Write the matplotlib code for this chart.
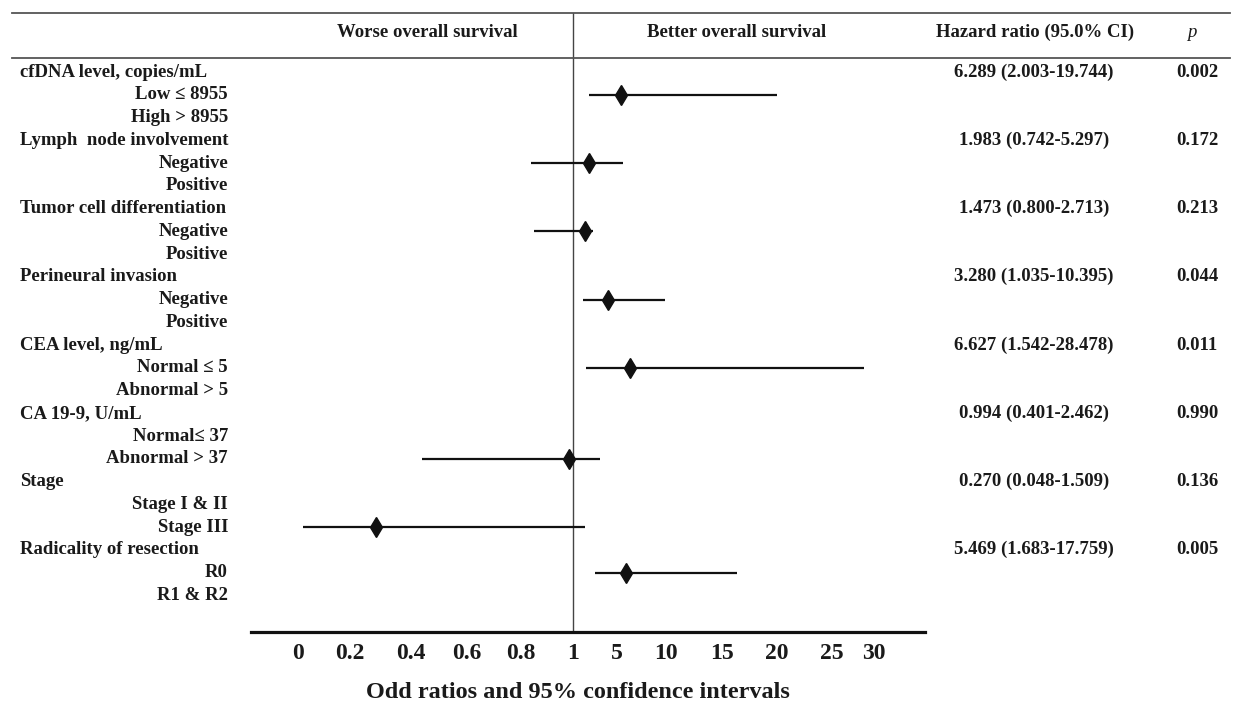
import numpy as np
import matplotlib
matplotlib.use('Agg')
import matplotlib.pyplot as plt
from matplotlib import transforms

plt.rcParams['font.family'] = ['Liberation Serif', 'DejaVu Serif']
plt.rcParams['font.weight'] = 'bold'

groups = ['cfDNA level, copies/mL', 'Lymph  node involvement',
          'Tumor cell differentiation', 'Perineural invasion',
          'CEA level, ng/mL', 'CA 19-9, U/mL', 'Stage',
          'Radicality of resection']
levels = [('Low \u2264 8955', 'High > 8955'), ('Negative', 'Positive'),
          ('Negative', 'Positive'), ('Negative', 'Positive'),
          ('Normal \u2264 5', 'Abnormal > 5'), ('Normal\u2264 37', 'Abnormal > 37'),
          ('Stage I & II', 'Stage III'), ('R0', 'R1 & R2')]
hr_text = ['6.289 (2.003-19.744)', '1.983 (0.742-5.297)', '1.473 (0.800-2.713)',
           '3.280 (1.035-10.395)', '6.627 (1.542-28.478)', '0.994 (0.401-2.462)',
           '0.270 (0.048-1.509)', '5.469 (1.683-17.759)']
p_text = ['0.002', '0.172', '0.213', '0.044', '0.011', '0.990', '0.136', '0.005']

# where the diamonds and whiskers sit on the drawn axis
mark_level = [0, 0, 0, 0, 0, 1, 1, 0]
hr_mark = [5.4, 2.45, 2.1, 4.2, 6.3, 0.985, 0.285, 5.9]
lo_mark = [2.45, 0.84, 0.85, 1.9, 2.2, 0.44, 0.02, 3.0]
hi_mark = [20.0, 5.6, 2.8, 9.9, 28.8, 3.5, 2.1, 16.4]

tick_vals = [0, 0.2, 0.4, 0.6, 0.8, 1, 5, 10, 15, 20, 25, 30]
tick_labels = ['0', '0.2', '0.4', '0.6', '0.8', '1', '5', '10', '15', '20', '25', '30']

# broken axis: 0-1 stretched over the left half, 1-30 over the right
tick_pos = [298, 350, 411, 467, 521, 573, 617, 666, 722, 777, 832, 874]
ext_vals = np.array([-1.0] + tick_vals + [40.0])
ext_pos = np.array([298 - 5 * 52] + tick_pos + [874 + 10 * 8.4])


def fwd(v):
    return np.interp(v, ext_vals, ext_pos)


def inv(p):
    return np.interp(p, ext_pos, ext_vals)


W, H = 1234, 707
fig = plt.figure(figsize=(W / 100, H / 100), dpi=100)
ax = fig.add_axes([251 / W, (H - 632) / H, (925 - 251) / W, (632 - 13) / H])
ax.set_xscale('function', functions=(fwd, inv))
ax.set_xlim(inv(251), inv(925))

row0, step = 72, 22.75
ax.set_ylim((632 - row0) / step, (13 - row0) / step)

txt = '#1a1a1a'
fs = 13.5
blend = transforms.blended_transform_factory(fig.transFigure, ax.transData)

for g, name in enumerate(groups):
    r = 3 * g
    ax.text(20 / W, r, name, transform=blend, ha='left', va='center',
            fontsize=fs, color=txt)
    for k, lev in enumerate(levels[g]):
        ax.text(228 / W, r + 1 + k, lev, transform=blend, ha='right',
                va='center', fontsize=fs, color=txt)
    ax.text(1034 / W, r, hr_text[g], transform=blend, ha='center',
            va='center', fontsize=fs, color=txt)
    ax.text(1197 / W, r, p_text[g], transform=blend, ha='center',
            va='center', fontsize=fs, color=txt)

    y = r + 1 + mark_level[g]
    ax.plot([lo_mark[g], hi_mark[g]], [y, y], color='#111111', lw=1.6,
            solid_capstyle='butt', zorder=3)
    ax.plot([hr_mark[g]], [y], marker='d', ms=9.8, color='#111111',
            mec='#111111', zorder=4)

# header
yh = (32 - row0) / step
ax.text(427 / W, yh, 'Worse overall survival', transform=blend, ha='center',
        va='center', fontsize=fs, color=txt)
ax.text(737 / W, yh, 'Better overall survival', transform=blend, ha='center',
        va='center', fontsize=fs, color=txt)
ax.text(1035 / W, yh, 'Hazard ratio (95.0% CI)', transform=blend, ha='center',
        va='center', fontsize=fs, color=txt)
ax.text(1192 / W, yh, 'p', transform=blend, ha='center', va='center',
        fontsize=fs, style='italic', weight='normal', color=txt)

for ypix in (13, 58):
    yy = (ypix - row0) / step
    ax.plot([12 / W, 1230 / W], [yy, yy], transform=blend, color='#555555',
            lw=1.3, clip_on=False)

ax.axvline(1, color='#444444', lw=1.0, zorder=1)

for s in ('top', 'left', 'right'):
    ax.spines[s].set_visible(False)
ax.spines['bottom'].set_linewidth(2.3)
ax.spines['bottom'].set_color('#111111')
ax.set_yticks([])
ax.set_xticks(tick_vals, labels=tick_labels)
ax.tick_params(axis='x', length=0, pad=8, labelsize=17, labelcolor=txt)

fig.text(578 / W, (H - 692) / H, 'Odd ratios and 95% confidence intervals',
         ha='center', va='center', fontsize=17.5, color=txt)

fig.savefig('out.png', dpi=100)
